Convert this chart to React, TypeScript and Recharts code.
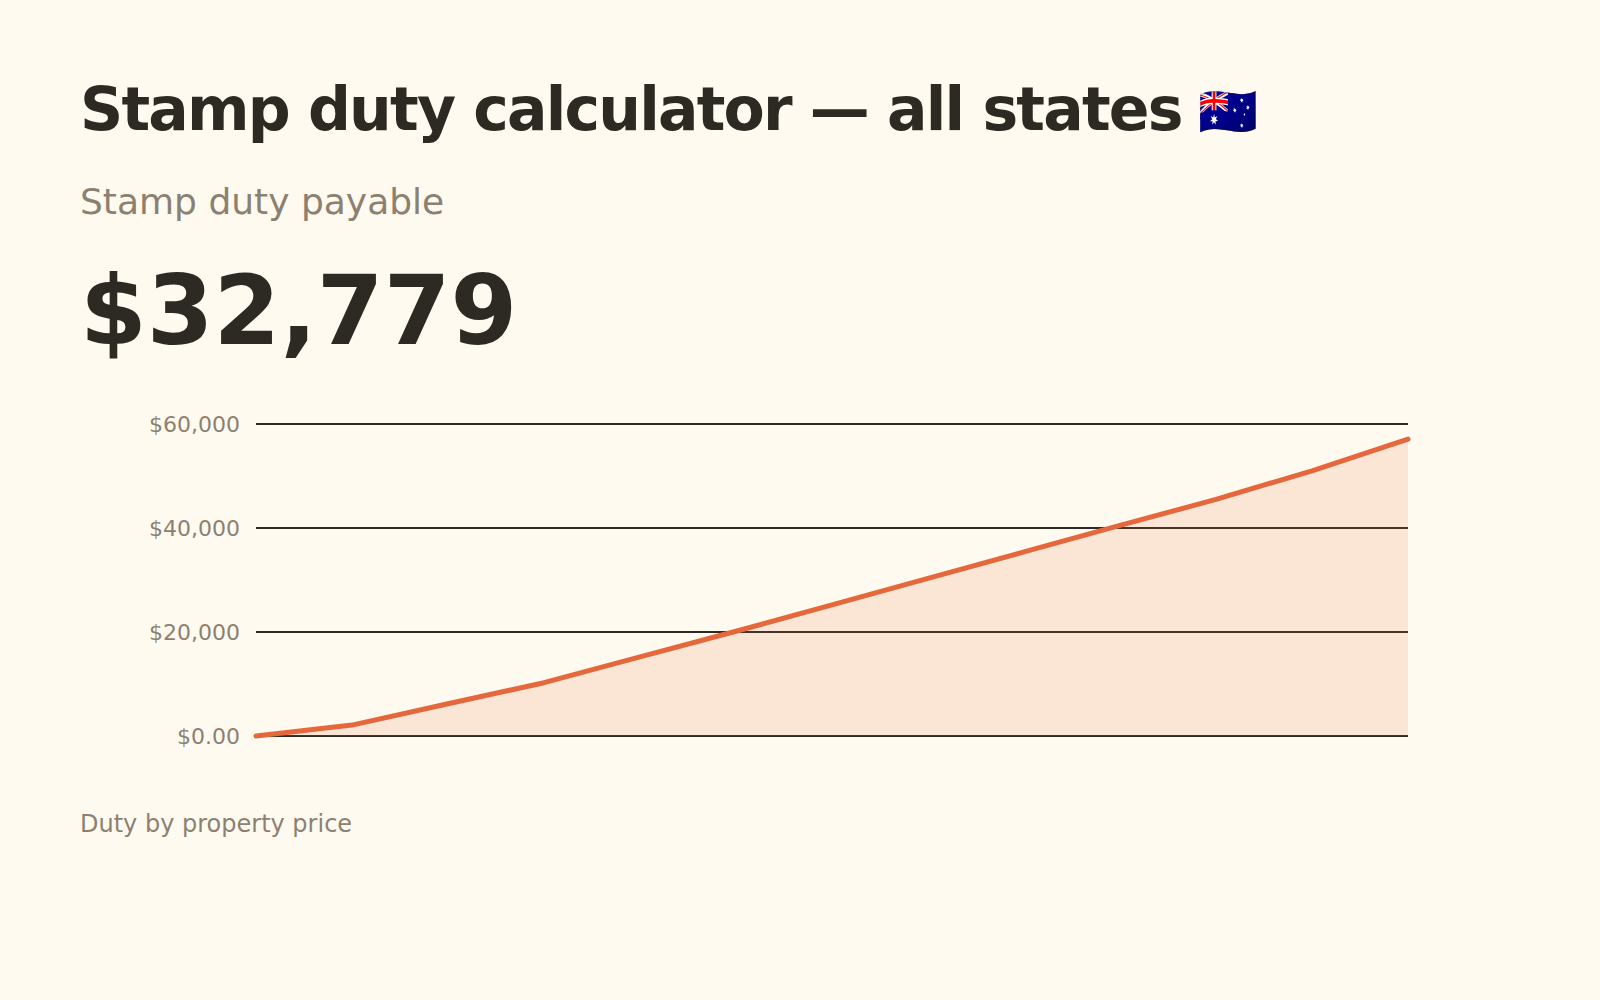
import React from "react";
import { ComposedChart, Area, XAxis, YAxis, CartesianGrid } from "recharts";

const prices = [0, 1, 2, 3, 4, 5, 6, 7, 8, 9, 10, 11, 12];
const duty = [0, 2100, 6200, 10250, 15200, 20150, 25200, 30300, 35400, 40500, 45500, 51000, 57100];
const yTicks = [0, 20000, 40000, 60000];
const yTickLabels = ["$0.00", "$20,000", "$40,000", "$60,000"];
const titleText = "Stamp duty calculator — all states";
const flagText = " 🇦🇺";
const subtitleText = "Stamp duty payable";
const amountText = "$32,779";
const captionText = "Duty by property price";

const data = prices.map((p, i) => ({ p, duty: duty[i] }));
const font = "'DejaVu Sans', sans-serif";

export default function App() {
  return (
    <div style={{ position: "absolute", left: 0, top: 0, width: 1600, height: 1000, background: "#FFFAF0", fontFamily: font, overflow: "hidden" }}>
      <div style={{ position: "absolute", left: 80, top: 74, fontSize: 60, letterSpacing: -1.8, fontWeight: 700, color: "#2D2A24", whiteSpace: "pre", lineHeight: "70px" }}>
        {titleText}
        <span style={{ fontSize: 48, letterSpacing: 0, position: "relative", top: -2 }}>{flagText}</span>
      </div>
      <div style={{ position: "absolute", left: 80, top: 180, fontSize: 36, color: "#8C8171", whiteSpace: "nowrap", lineHeight: "44px" }}>{subtitleText}</div>
      <div style={{ position: "absolute", left: 80, top: 256, fontSize: 96, fontWeight: 700, color: "#2D2A24", whiteSpace: "nowrap", lineHeight: "110px" }}>{amountText}</div>
      <div style={{ position: "absolute", left: 80, top: 808, fontSize: 24, color: "#8C8171", whiteSpace: "nowrap", lineHeight: "32px" }}>{captionText}</div>
      <div style={{ position: "absolute", left: 80, top: 400 }}>
        <ComposedChart width={1336} height={360} data={data} margin={{ top: 24, right: 8, bottom: 24, left: 0 }}>
          <CartesianGrid horizontal vertical={false} stroke="#2D2A24" strokeWidth={2} />
          <XAxis dataKey="p" type="number" domain={[0, 12]} hide />
          <YAxis
            width={176}
            domain={[0, 60000]}
            ticks={yTicks}
            tickFormatter={(v: number) => yTickLabels[yTicks.indexOf(v)]}
            axisLine={false}
            tickLine={false}
            tickMargin={10}
            tick={{ fill: "#8C8171", fontSize: 22, fontFamily: font }}
          />
          <Area dataKey="duty" type="linear" stroke="#E4683C" strokeWidth={5} strokeLinecap="round" strokeLinejoin="round" fill="#E76F3C" fillOpacity={0.15} isAnimationActive={false} dot={false} activeDot={false} />
        </ComposedChart>
      </div>
    </div>
  );
}
